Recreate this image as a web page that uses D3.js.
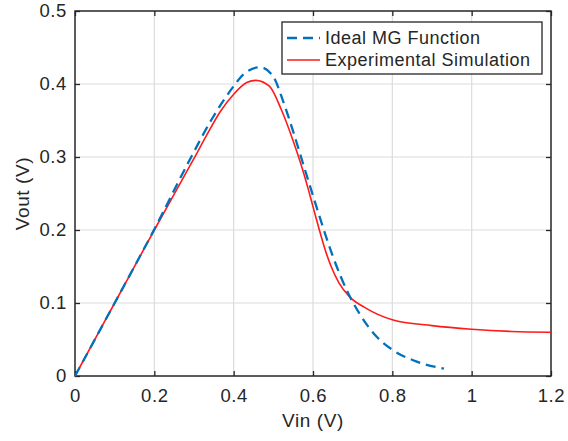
<!DOCTYPE html>
<html>
<head>
<meta charset="utf-8">
<style>
  body { margin: 0; background: #fff; }
  text { font-family: "Liberation Sans", Arial, sans-serif; fill: #262626; }
</style>
</head>
<body>
<div id="chart"></div>
<script src="https://d3js.org/d3.v7.min.js"></script>
<script>
// Ideal MG function (dashed blue)
var idealX = [0, 0.1, 0.2, 0.29, 0.345, 0.4, 0.424, 0.467, 0.5, 0.525, 0.55, 0.576, 0.6, 0.622, 0.65, 0.69, 0.72, 0.76, 0.8, 0.86, 0.93];
var idealY = [0, 0.1, 0.201, 0.297, 0.352, 0.397, 0.413, 0.423, 0.41, 0.376, 0.335, 0.289, 0.247, 0.209, 0.164, 0.112, 0.083, 0.054, 0.036, 0.02, 0.01];

// Experimental simulation (red)
var simX = [0, 0.1, 0.2, 0.3, 0.333, 0.366, 0.4, 0.433, 0.456, 0.49, 0.52, 0.55, 0.572, 0.588, 0.601, 0.614, 0.63, 0.645, 0.665, 0.693, 0.73, 0.8, 0.9, 1.0, 1.1, 1.2];
var simY = [0, 0.1, 0.2, 0.298, 0.331, 0.362, 0.386, 0.402, 0.405, 0.397, 0.365, 0.322, 0.286, 0.256, 0.23, 0.204, 0.174, 0.151, 0.128, 0.108, 0.094, 0.077, 0.069, 0.064, 0.061, 0.06];

var xTicks = [0, 0.2, 0.4, 0.6, 0.8, 1, 1.2];
var yTicks = [0, 0.1, 0.2, 0.3, 0.4, 0.5];

var W = 568, H = 441;
var margin = {left: 75, top: 11, right: 17, bottom: 65};
var w = W - margin.left - margin.right,
    h = H - margin.top - margin.bottom;

var svg = d3.select("#chart").append("svg")
    .attr("width", W).attr("height", H);

var g = svg.append("g")
    .attr("transform", "translate(" + margin.left + "," + margin.top + ")");

var x = d3.scaleLinear().domain([0, 1.2]).range([0, w]);
var y = d3.scaleLinear().domain([0, 0.5]).range([h, 0]);

// grid
g.append("g").selectAll("line").data(xTicks.slice(1, -1)).enter().append("line")
    .attr("x1", x).attr("x2", x).attr("y1", 0).attr("y2", h)
    .attr("stroke", "#dcdcdc").attr("stroke-width", 1.2);
g.append("g").selectAll("line").data(yTicks.slice(1, -1)).enter().append("line")
    .attr("y1", y).attr("y2", y).attr("x1", 0).attr("x2", w)
    .attr("stroke", "#dcdcdc").attr("stroke-width", 1.2);

// axes (ticks inside, MATLAB style)
function styleAxis(sel) {
  sel.select(".domain").remove();
  sel.selectAll(".tick line").attr("stroke", "#262626").attr("stroke-width", 1.3);
  sel.selectAll("text").style("font-size", "18.5px").style("letter-spacing", "0.6px")
    .attr("fill", "#262626");
}
g.append("g").attr("transform", "translate(0," + h + ")")
    .call(d3.axisBottom(x).tickValues(xTicks).tickSize(-5).tickPadding(13).tickFormat(d3.format("")))
    .call(styleAxis);
g.append("g")
    .call(d3.axisLeft(y).tickValues(yTicks).tickSize(-5).tickPadding(8).tickFormat(d3.format("")))
    .call(styleAxis);
g.append("g")
    .call(d3.axisTop(x).tickValues(xTicks).tickSize(-5).tickFormat(""))
    .call(styleAxis);
g.append("g").attr("transform", "translate(" + w + ",0)")
    .call(d3.axisRight(y).tickValues(yTicks).tickSize(-5).tickFormat(""))
    .call(styleAxis);

g.append("rect").attr("width", w).attr("height", h)
    .attr("fill", "none").attr("stroke", "#262626").attr("stroke-width", 1.5);

// lines
var line = d3.line()
    .x(function(d) { return x(d[0]); })
    .y(function(d) { return y(d[1]); })
    .curve(d3.curveMonotoneX);

var simData = simX.map(function(d, i) { return [d, simY[i]]; });
var idealData = idealX.map(function(d, i) { return [d, idealY[i]]; });

g.append("path").datum(simData).attr("d", line)
    .attr("fill", "none").attr("stroke", "#ff1a1a").attr("stroke-width", 1.6);
g.append("path").datum(idealData).attr("d", line)
    .attr("fill", "none").attr("stroke", "#0072bd").attr("stroke-width", 2.3)
    .attr("stroke-dasharray", "10,6");

// axis labels
svg.append("text").attr("x", margin.left + w / 2).attr("y", 427)
    .attr("text-anchor", "middle").style("font-size", "19px").style("letter-spacing", "0.6px")
    .text("Vin (V)");
svg.append("text").attr("transform", "translate(29," + (margin.top + h / 2) + ") rotate(-90)")
    .attr("text-anchor", "middle").style("font-size", "19px").style("letter-spacing", "0.6px")
    .text("Vout (V)");

// legend
var leg = svg.append("g").attr("transform", "translate(282,22)");
leg.append("rect").attr("width", 260).attr("height", 52)
    .attr("fill", "#fff").attr("stroke", "#262626").attr("stroke-width", 1.3);
var legItems = [
  {name: "Ideal MG Function", color: "#0072bd", dash: "10,6", width: 2.3},
  {name: "Experimental Simulation", color: "#ff1a1a", dash: null, width: 1.6}
];
legItems.forEach(function(it, i) {
  var yy = 16 + i * 22;
  leg.append("line").attr("x1", 5).attr("x2", 38).attr("y1", yy).attr("y2", yy)
      .attr("stroke", it.color).attr("stroke-width", it.width)
      .attr("stroke-dasharray", it.dash);
  leg.append("text").attr("x", 43).attr("y", yy + 6)
      .style("font-size", "18px").style("letter-spacing", "0.5px").text(it.name);
});
</script>
</body>
</html>
